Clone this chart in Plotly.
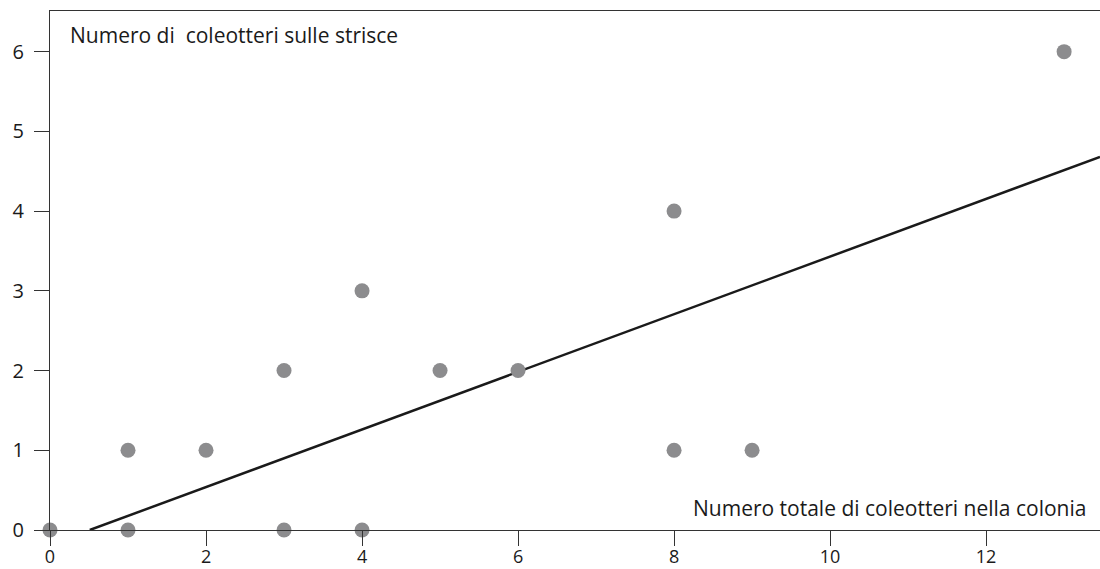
import plotly.graph_objects as go

# Data
total_beetles = [0, 1, 1, 2, 3, 3, 4, 4, 5, 6, 8, 8, 9, 13]
stripe_beetles = [0, 1, 0, 1, 2, 0, 3, 0, 2, 2, 4, 1, 1, 6]
fit_x = [0.51, 13.46]
fit_y = [0.0, 4.68]
x_ticks = [0, 2, 4, 6, 8, 10, 12]
y_ticks = [0, 1, 2, 3, 4, 5, 6]

FONT = "Open Sans"
W = 1100 - 50
H = 569 - 11 - 39

fig = go.Figure()
fig.add_trace(go.Scatter(x=fit_x, y=fit_y, mode="lines",
                         line=dict(color="#1a1a1a", width=2.5),
                         hoverinfo="skip", showlegend=False, cliponaxis=False))
fig.add_trace(go.Scatter(x=total_beetles, y=stripe_beetles, mode="markers",
                         marker=dict(color="#8c8c8e", size=15, line=dict(width=0)),
                         showlegend=False, cliponaxis=False))

fig.update_layout(
    width=1100, height=569,
    margin=dict(l=50, r=0, t=11, b=39, autoexpand=False),
    paper_bgcolor="white", plot_bgcolor="white",
    font=dict(family=FONT, size=20, color="#1a1a1a"),
    xaxis=dict(range=[0, 13.46], tickvals=x_ticks, showgrid=False, zeroline=False,
               showline=True, linecolor="#333333", linewidth=1, mirror=True,
               ticks="outside", ticklen=15, tickcolor="#333333", tickwidth=1,
               automargin=False, ticklabelstandoff=-5,
               tickfont=dict(size=18)),
    yaxis=dict(range=[0, 6.51], tickvals=y_ticks, showgrid=False, zeroline=False,
               showline=True, linecolor="#333333", linewidth=1,
               ticks="outside", ticklen=15, tickcolor="#333333", tickwidth=1,
               automargin=False, ticklabelstandoff=6),
    annotations=[
        dict(text="Numero di\u00a0 coleotteri sulle strisce",
             x=(68 - 50) / W, y=(530 - 35) / H,
             xref="paper", yref="paper", showarrow=False,
             xanchor="left", yanchor="middle", font=dict(size=21, family=FONT)),
        dict(text="Numero totale di coleotteri nella colonia",
             x=(1088 - 50) / W, y=(530 - 508) / H,
             xref="paper", yref="paper", showarrow=False,
             xanchor="right", yanchor="middle", font=dict(size=21, family=FONT)),
    ],
)

fig.write_html("out.html", config={"displayModeBar": False},
               post_script="document.body.style.margin='0';document.body.style.padding='0';")
